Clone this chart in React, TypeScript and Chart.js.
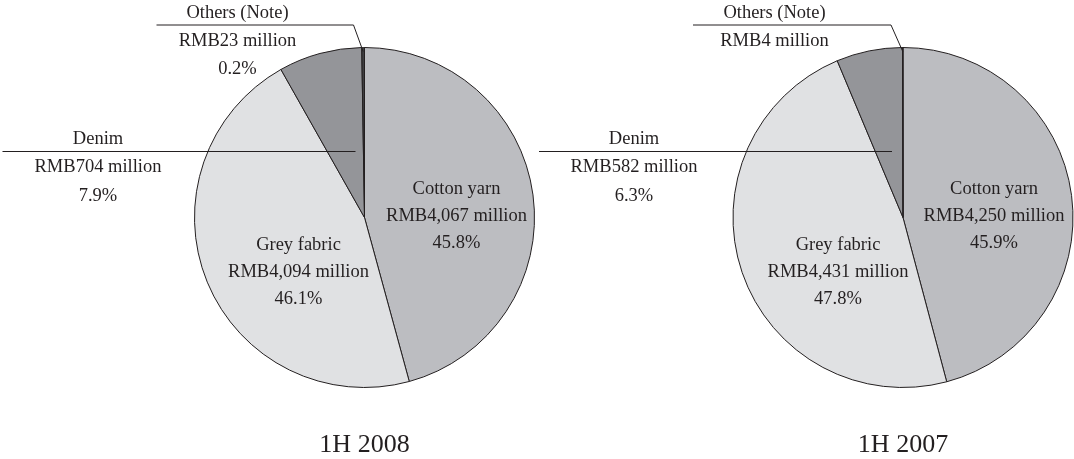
import React, { useEffect, useRef } from 'react';
import { Chart, registerables } from 'chart.js';

Chart.register(...registerables);

const categories = ['Cotton yarn', 'Grey fabric', 'Denim', 'Others (Note)'];
const values2008 = [4067, 4094, 704, 23];
const values2007 = [4250, 4431, 582, 4];
const amounts2008 = ['RMB4,067 million', 'RMB4,094 million', 'RMB704 million', 'RMB23 million'];
const amounts2007 = ['RMB4,250 million', 'RMB4,431 million', 'RMB582 million', 'RMB4 million'];
const percents2008 = ['45.8%', '46.1%', '7.9%', '0.2%'];
const percents2007 = ['45.9%', '47.8%', '6.3%', ''];
const titles = ['1H 2008', '1H 2007'];

const colors = ['#bcbdc1', '#e0e1e3', '#949599', '#3e3e40'];
const INK = '#231f20';
const FONT = "'Liberation Serif', 'Tinos', 'Times New Roman', serif";

type PieSpec = {
  values: number[];
  amounts: string[];
  percents: string[];
  title: string;
  cx: number;
  cy: number;
  r: number;
  labelDx: number[];
  denimLine: [number, number];
  othersLine: [number, number];
};

const specs: PieSpec[] = [
  {
    values: values2008,
    amounts: amounts2008,
    percents: percents2008,
    title: titles[0],
    cx: 364.5,
    cy: 217.5,
    r: 170,
    labelDx: [92, -66, -266.5, -127],
    denimLine: [-362, -9],
    othersLine: [-208, -11],
  },
  {
    values: values2007,
    amounts: amounts2007,
    percents: percents2007,
    title: titles[1],
    cx: 903,
    cy: 217.5,
    r: 170,
    labelDx: [91, -65, -269, -128.5],
    denimLine: [-364, -11],
    othersLine: [-210, -12],
  },
];

function makeLinePlugin(spec: PieSpec) {
  return {
    id: 'leaderLines',
    afterDraw(chart: any) {
      const ctx: CanvasRenderingContext2D = chart.ctx;
      const arcs = chart.getDatasetMeta(0).data;
      if (!arcs.length) return;
      const cx = arcs[0].x;
      const cy = arcs[0].y;
      const r = arcs[0].outerRadius;
      ctx.save();
      ctx.strokeStyle = INK;
      ctx.lineWidth = 1;
      ctx.beginPath();
      ctx.moveTo(cx + spec.denimLine[0], cy - 66);
      ctx.lineTo(cx + spec.denimLine[1], cy - 66);
      ctx.stroke();
      const o = arcs[3];
      const mid = (o.startAngle + o.endAngle) / 2;
      const ex = cx + Math.cos(mid) * (r - 4);
      const ey = cy + Math.sin(mid) * (r - 4);
      ctx.beginPath();
      ctx.moveTo(cx + spec.othersLine[0], cy - 192.5);
      ctx.lineTo(cx + spec.othersLine[1], cy - 192.5);
      ctx.lineTo(ex, ey);
      ctx.stroke();
      ctx.restore();
    },
  };
}

function TextBlock({
  x,
  baseline,
  lines,
  size,
  gap,
}: {
  x: number;
  baseline: number;
  lines: string[];
  size: number;
  gap: number;
}) {
  const baseOffset = (gap - 1.107 * size) / 2 + 0.891 * size;
  return (
    <div
      style={{
        position: 'absolute',
        left: x - 200,
        top: baseline - baseOffset,
        width: 400,
        textAlign: 'center',
        fontFamily: FONT,
        fontSize: size,
        lineHeight: `${gap}px`,
        color: INK,
        whiteSpace: 'nowrap',
      }}
    >
      {lines.filter((t) => t).map((t, i) => (
        <div key={i}>{t}</div>
      ))}
    </div>
  );
}

function Pie({ spec }: { spec: PieSpec }) {
  const ref = useRef<HTMLCanvasElement | null>(null);
  useEffect(() => {
    if (!ref.current) return;
    const half = spec.r + 0.5;
    const chart = new Chart(ref.current, {
      type: 'pie',
      data: {
        labels: categories,
        datasets: [
          {
            data: spec.values,
            backgroundColor: colors,
            borderColor: INK,
            borderWidth: 1,
          },
        ],
      },
      options: {
        responsive: false,
        maintainAspectRatio: false,
        animation: false,
        devicePixelRatio: 1,
        layout: {
          padding: {
            left: spec.cx - half,
            right: 1074 - (spec.cx + half),
            top: spec.cy - half,
            bottom: 459 - (spec.cy + half),
          },
        },
        plugins: {
          legend: { display: false },
          tooltip: { enabled: false },
        },
      },
      plugins: [makeLinePlugin(spec)],
    });
    return () => chart.destroy();
  }, [spec]);
  const { cx, cy, labelDx } = spec;
  const S = 18.5;
  return (
    <>
      <canvas
        ref={ref}
        width={1074}
        height={459}
        style={{ position: 'absolute', left: 0, top: 0, width: 1074, height: 459 }}
      />
      <TextBlock
        x={cx + labelDx[0]}
        baseline={cy - 22.5}
        lines={[categories[0], spec.amounts[0], spec.percents[0]]}
        size={S}
        gap={27}
      />
      <TextBlock
        x={cx + labelDx[1]}
        baseline={cy + 33}
        lines={[categories[1], spec.amounts[1], spec.percents[1]]}
        size={S}
        gap={27}
      />
      <TextBlock
        x={cx + labelDx[2]}
        baseline={cy - 73.5}
        lines={[categories[2], spec.amounts[2], spec.percents[2]]}
        size={S}
        gap={28.5}
      />
      <TextBlock
        x={cx + labelDx[3]}
        baseline={cy - 199.5}
        lines={[categories[3], spec.amounts[3], spec.percents[3]]}
        size={S}
        gap={28}
      />
      <TextBlock x={cx} baseline={453} lines={[spec.title]} size={26} gap={30} />
    </>
  );
}

export default function App() {
  return (
    <div
      style={{
        position: 'absolute',
        left: 0,
        top: 0,
        width: 1074,
        height: 459,
        background: '#ffffff',
        overflow: 'hidden',
      }}
    >
      {specs.map((s) => (
        <Pie key={s.title} spec={s} />
      ))}
    </div>
  );
}
